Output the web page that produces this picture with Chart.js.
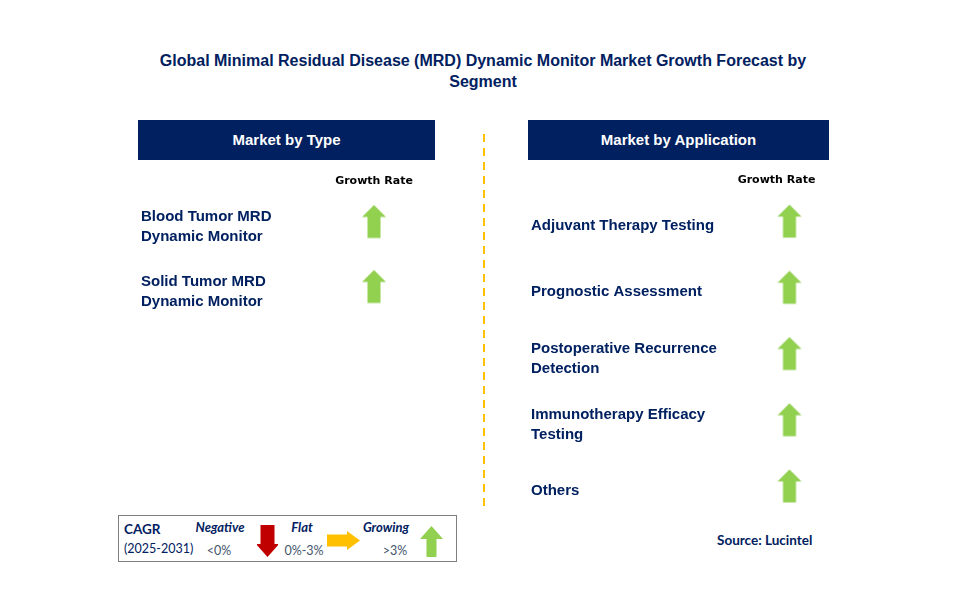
<!DOCTYPE html>
<html>
<head>
<meta charset="utf-8">
<script src="https://cdn.jsdelivr.net/npm/chart.js@4.4.1/dist/chart.umd.min.js"></script>
<style>
  body { margin: 0; background: #fff; }
  #page { position: relative; width: 957px; height: 590px; overflow: hidden; font-family: 'Liberation Sans', Arial, sans-serif; }
  .abs { position: absolute; }
  .mid { transform: translate(-50%, -50%); white-space: nowrap; }
  #title { left: 0; width: 966px; top: 50px; text-align: center; color: #002060; font: bold 16px/21px 'Liberation Sans', Arial, sans-serif; }
  .head { background: #002060; color: #fff; height: 40px; line-height: 40px; text-align: center; font: bold 15px/40px 'Liberation Sans', Arial, sans-serif; }
  #divider { left: 483px; top: 134px; width: 2px; height: 372px;
    background: repeating-linear-gradient(to bottom, #FFC000 0 8px, transparent 8px 14px); }
  #legendBox { left: 118px; top: 515px; width: 337px; height: 45px; border: 1px solid #7f7f7f; }
  .lg { font-family: Lato, 'Open Sans', sans-serif; color: #002060; white-space: nowrap; }
  .lgHead { font-weight: bold; font-style: italic; font-size: 13px; }
  .lgRange { font-size: 12.5px; color: #44546A; }
  #source { left: 717px; top: 532px; color: #002060; font: bold 13.5px Lato, 'Open Sans', sans-serif; white-space: nowrap; }
</style>
</head>
<body>
<div id="page">
  <div id="title" class="abs">Global Minimal Residual Disease (MRD) Dynamic Monitor Market Growth Forecast by<br>Segment</div>

  <div class="abs head" style="left:138px; top:120px; width:297px;">Market by Type</div>
  <div class="abs head" style="left:528px; top:120px; width:301px;">Market by Application</div>
  <div id="divider" class="abs"></div>

  <div class="abs" style="left:141px; top:170px; width:316px; height:154px;">
    <canvas id="typeChart" width="316" height="154"></canvas>
  </div>
  <div class="abs" style="left:531px; top:169px; width:317px; height:355px;">
    <canvas id="appChart" width="317" height="355"></canvas>
  </div>

  <div id="legendBox" class="abs"></div>
  <div id="legend"></div>
  <div id="source" class="abs">Source: Lucintel</div>
</div>

<script>
// ---- data ----
const typeSegments = ['Blood Tumor MRD Dynamic Monitor', 'Solid Tumor MRD Dynamic Monitor'];
const typeGrowth = ['Growing', 'Growing'];

const appSegments = [
  'Adjuvant Therapy Testing',
  'Prognostic Assessment',
  'Postoperative Recurrence Detection',
  'Immunotherapy Efficacy Testing',
  'Others'
];
const appGrowth = ['Growing', 'Growing', 'Growing', 'Growing', 'Growing'];

const growthColumn = ['Growth Rate'];

const cagrClasses = ['Negative', 'Flat', 'Growing'];
const cagrRanges = ['<0%', '0%-3%', '>3%'];

// ---- look ----
const NAVY = '#002060';
const ARROW_COLORS = { Negative: '#C00000', Flat: '#FFC000', Growing: '#92D050' };
const ARROW_DIRS = { Negative: 'down', Flat: 'right', Growing: 'up' };

// draws a block arrow into a fresh canvas; shiftY moves it inside the box
function makeArrow(dir, color, len, headW, headLen, shaftW, boxW, boxH, shiftY) {
  const c = document.createElement('canvas');
  c.width = boxW; c.height = boxH;
  const g = c.getContext('2d');
  g.translate(boxW / 2, boxH / 2 + (shiftY || 0));
  if (dir === 'down') g.rotate(Math.PI);
  if (dir === 'right') g.rotate(Math.PI / 2);
  const top = -len / 2, bot = len / 2, neck = top + headLen;
  g.beginPath();
  g.moveTo(0, top);
  g.lineTo(headW / 2, neck);
  g.lineTo(shaftW / 2, neck);
  g.lineTo(shaftW / 2, bot);
  g.lineTo(-shaftW / 2, bot);
  g.lineTo(-shaftW / 2, neck);
  g.lineTo(-headW / 2, neck);
  g.closePath();
  g.fillStyle = color;
  g.fill();
  return c;
}

const POINT_ARROWS = {};
for (const k of cagrClasses) {
  POINT_ARROWS[k] = makeArrow(ARROW_DIRS[k], ARROW_COLORS[k], 33, 24, 12, 13, 26, 44, -5);
}

function wrap(text, maxChars) {
  const lines = [];
  let cur = '';
  for (const w of text.split(' ')) {
    if (cur && (cur + ' ' + w).length > maxChars) { lines.push(cur); cur = w; }
    else cur = cur ? cur + ' ' + w : w;
  }
  lines.push(cur);
  return lines;
}

function segmentChart(canvasId, segments, growth, wrapAt, axisWidth, headerShift) {
  return new Chart(document.getElementById(canvasId), {
    type: 'scatter',
    data: {
      datasets: [{
        data: segments.map(s => ({ x: growthColumn[0], y: s })),
        pointStyle: c => POINT_ARROWS[growth[c.dataIndex]],
        pointRadius: 4
      }]
    },
    options: {
      responsive: false,
      animation: false,
      events: [],
      layout: { padding: 0, autoPadding: false },
      plugins: { legend: { display: false }, tooltip: { enabled: false } },
      scales: {
        x: {
          type: 'category',
          labels: growthColumn,
          position: 'top',
          offset: true,
          grid: { display: false, drawTicks: false },
          border: { display: false },
          ticks: {
            padding: 6,
            labelOffset: headerShift,
            color: '#000',
            font: { family: 'DejaVu Sans', weight: 'bold', size: 11 }
          },
          afterFit: s => { s.height = 24; s.paddingLeft = 0; s.paddingRight = 0; }
        },
        y: {
          type: 'category',
          labels: segments,
          offset: true,
          grid: { display: false, drawTicks: false },
          border: { display: false },
          ticks: {
            crossAlign: 'far',
            padding: 0,
            color: NAVY,
            font: { family: "'Liberation Sans', Arial, sans-serif", weight: 'bold', size: 15, lineHeight: 1.333 },
            callback: function (v) { return wrap(this.getLabelForValue(v), wrapAt); }
          },
          // bands run edge to edge: drop the half-label padding at top and bottom
          afterFit: s => { s.width = axisWidth; s.paddingTop = 0; s.paddingBottom = 0; }
        }
      }
    }
  });
}

segmentChart('typeChart', typeSegments, typeGrowth, 16, 150, 0);
segmentChart('appChart', appSegments, appGrowth, 24, 200, -13);

// ---- CAGR key ----
const legend = document.getElementById('legend');
function put(html, cls, x, y) {
  const d = document.createElement('div');
  d.className = 'abs lg ' + cls;
  d.style.left = x + 'px';
  d.style.top = y + 'px';
  d.innerHTML = html;
  legend.appendChild(d);
  return d;
}
const cagr = put('CAGR', '', 124, 521);
cagr.style.fontWeight = 'bold';
cagr.style.fontSize = '13.5px';
put('(2025-2031)', '', 124, 541).style.fontSize = '12.5px';

const headX = [220, 302, 386];
const rangeX = [219, 304, 395];
const keyArrows = [
  { x: 257, y: 525, len: 32, headW: 23, headLen: 13, shaftW: 14, w: 21, h: 32 },
  { x: 327, y: 531, len: 33, headW: 19, headLen: 13, shaftW: 12, w: 33, h: 19 },
  { x: 420, y: 526, len: 31, headW: 23, headLen: 13, shaftW: 10, w: 23, h: 31 }
];
cagrClasses.forEach((k, i) => {
  put(k, 'mid lgHead', headX[i], 527);
  put(cagrRanges[i].replace('<', '&lt;').replace('>', '&gt;'), 'mid lgRange', rangeX[i], 550);
  const a = keyArrows[i];
  const c = makeArrow(ARROW_DIRS[k], ARROW_COLORS[k], a.len, a.headW, a.headLen, a.shaftW, a.w, a.h, 0);
  c.className = 'abs';
  c.style.left = a.x + 'px';
  c.style.top = a.y + 'px';
  legend.appendChild(c);
});
</script>
</body>
</html>
